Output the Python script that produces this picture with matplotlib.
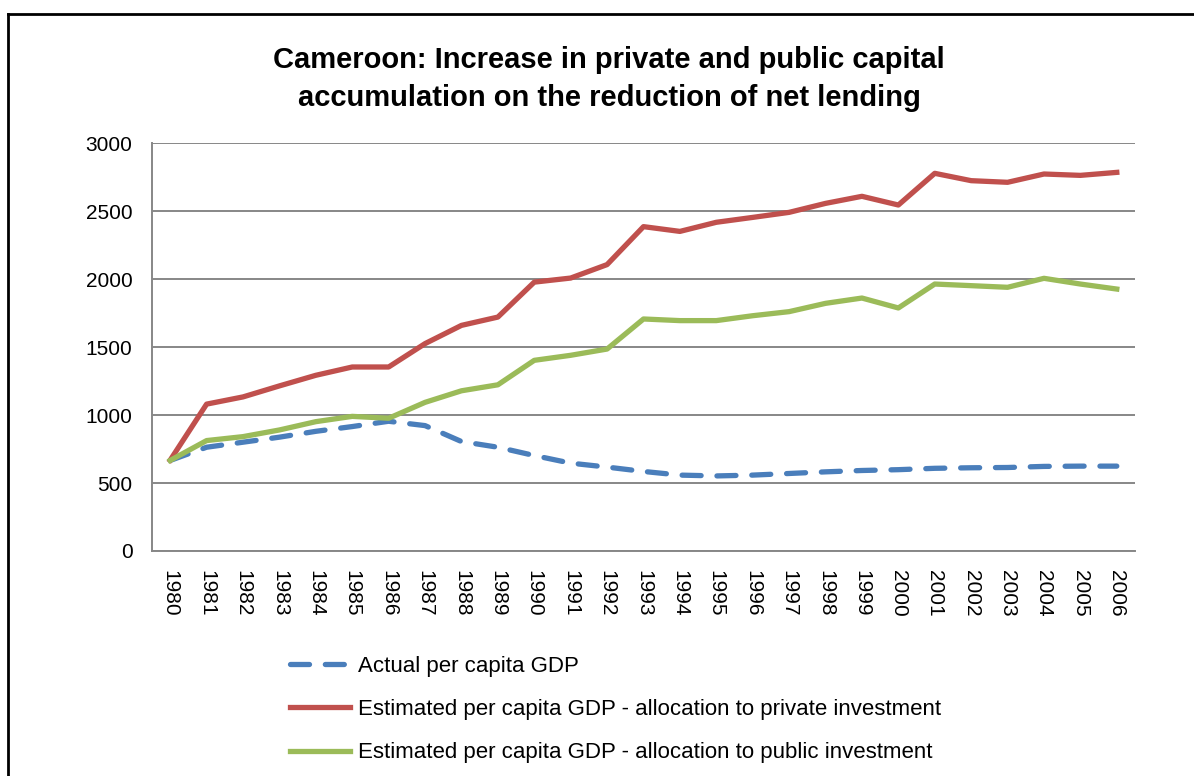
import numpy as np
import matplotlib.pyplot as plt

# data
years = [str(y) for y in range(1980, 2007)]
actual = [666, 763, 800, 837, 880, 915, 954, 922, 805, 763, 702, 646, 617, 585,
          558, 552, 558, 570, 582, 592, 598, 608, 612, 614, 622, 624, 624]
private = [668, 1080, 1133, 1214, 1292, 1353, 1353, 1525, 1659, 1720, 1977, 2007, 2106, 2385,
           2350, 2417, 2453, 2490, 2556, 2608, 2544, 2777, 2723, 2711, 2772, 2762, 2784]
public = [666, 812, 841, 890, 951, 990, 976, 1093, 1178, 1222, 1402, 1439, 1485, 1706,
          1694, 1694, 1730, 1760, 1821, 1860, 1787, 1963, 1951, 1939, 2005, 1963, 1926]

labels = ['Actual per capita GDP',
          'Estimated per capita GDP - allocation to private investment',
          'Estimated per capita GDP - allocation to public investment']
title = 'Cameroon: Increase in private and public capital\naccumulation on the reduction of net lending'

plt.rcParams['font.family'] = ['Liberation Sans', 'DejaVu Sans']

fig = plt.figure(figsize=(11.94, 7.76), dpi=100)
ax = fig.add_axes([152 / 1194, 1 - 551 / 776, (1135 - 152) / 1194, (551 - 143) / 776])

x = np.arange(len(years))
ax.plot(x, actual, color='#4A7EBB', lw=3.8, dashes=(3.6, 3.0), dash_capstyle='round',
        solid_joinstyle='round', label=labels[0])
ax.plot(x, private, color='#C0504D', lw=3.8, solid_joinstyle='round', label=labels[1])
ax.plot(x, public, color='#9BBB59', lw=3.8, solid_joinstyle='round', label=labels[2])

ax.set_xlim(-0.5, len(years) - 0.5)
ax.set_ylim(0, 3000)
ax.set_yticks(range(0, 3001, 500))
ax.set_xticks(x)
ax.set_xticklabels(years, rotation=-90)
ax.tick_params(length=0, labelsize=15, pad=14)
ax.yaxis.grid(True, color='#878787', lw=1.4)
ax.set_axisbelow(True)
for s in ['top', 'right']:
    ax.spines[s].set_visible(False)
for s in ['left', 'bottom']:
    ax.spines[s].set_color('#878787')
    ax.spines[s].set_linewidth(1.4)

fig.text(609 / 1194, 1 - 79 / 776, title, ha='center', va='center', fontsize=21,
         fontweight='bold', linespacing=1.5)

leg = fig.legend(loc='upper left', bbox_to_anchor=(270 / 1194, 1 - 636 / 776),
                 frameon=False, prop={'size': 16},
                 handlelength=2.7, handletextpad=0.36, labelspacing=1.0)

# frame of the screenshot (top and left edges)
fig.add_artist(plt.Line2D([8 / 1194, 8 / 1194], [0, 1 - 14 / 776], color='black', lw=2,
                          transform=fig.transFigure))
fig.add_artist(plt.Line2D([8 / 1194, 1], [1 - 14 / 776, 1 - 14 / 776], color='black', lw=2,
                          transform=fig.transFigure))

fig.savefig('out.png', dpi=100)
